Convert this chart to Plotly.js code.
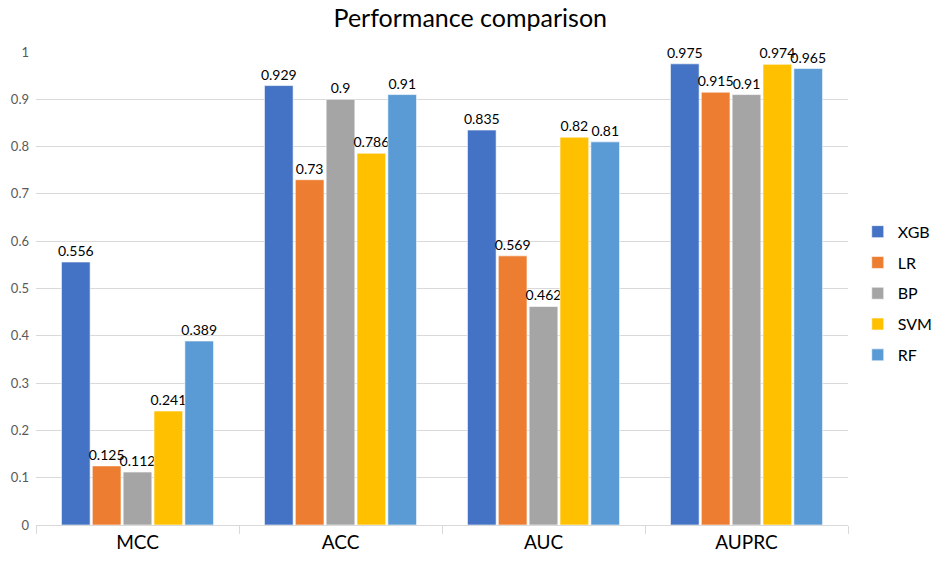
<!DOCTYPE html>
<html>
<head>
<meta charset="utf-8">
<script src="https://cdn.plot.ly/plotly-3.0.1.min.js"></script>
<style>
  html, body { margin: 0; padding: 0; background: #fff; }
  #plot { width: 935px; height: 566px; }
</style>
</head>
<body>
<div id="plot"></div>
<script>
const metrics = ["MCC", "ACC", "AUC", "AUPRC"];
const models = ["XGB", "LR", "BP", "SVM", "RF"];
const xgb = [0.556, 0.929, 0.835, 0.975];
const lr = [0.125, 0.73, 0.569, 0.915];
const bp = [0.112, 0.9, 0.462, 0.91];
const svm = [0.241, 0.786, 0.82, 0.974];
const rf = [0.389, 0.91, 0.81, 0.965];
const yTicks = [0, 0.1, 0.2, 0.3, 0.4, 0.5, 0.6, 0.7, 0.8, 0.9, 1];

const colors = ["#4472C4", "#ED7D31", "#A5A5A5", "#FFC000", "#5B9BD5"];
const series = [xgb, lr, bp, svm, rf];

// one legend group per model so tracegroupgap spaces the entries out
const traces = series.map((vals, i) => ({
  type: "bar",
  name: models[i],
  legendgroup: models[i],
  x: metrics,
  y: vals,
  text: vals.map(v => String(v)),
  textposition: "outside",
  textangle: 0,
  constraintext: "none",
  cliponaxis: false,
  textfont: { family: "Lato, sans-serif", size: 14, color: "#000" },
  marker: { color: colors[i], line: { color: "rgba(255,255,255,0.6)", width: 1 } },
  hoverinfo: "skip"
}));

const layout = {
  width: 935,
  height: 566,
  margin: { l: 36, r: 87, t: 52, b: 41, autoexpand: false },
  paper_bgcolor: "#fff",
  plot_bgcolor: "#fff",
  font: { family: "Lato, sans-serif", color: "#595959" },
  title: {
    text: "Performance comparison",
    x: 0.503,
    xanchor: "center",
    y: 0.968,
    yanchor: "middle",
    font: { family: "Lato, sans-serif", size: 25, color: "#000" }
  },
  barmode: "group",
  bargap: 0.24,
  bargroupgap: 0.07,
  xaxis: {
    type: "category",
    showline: true,
    linecolor: "#d9d9d9",
    linewidth: 1,
    ticks: "outside",
    tickson: "boundaries",
    ticklen: 8,
    tickcolor: "#d9d9d9",
    showgrid: false,
    automargin: false,
    tickfont: { family: "Lato, sans-serif", size: 19, color: "#000" }
  },
  yaxis: {
    range: [0, 1],
    tickvals: yTicks,
    ticktext: yTicks.map(v => String(v)),
    showgrid: true,
    gridcolor: "#d9d9d9",
    gridwidth: 1,
    zeroline: false,
    showline: false,
    ticks: "",
    automargin: false,
    ticklabelstandoff: 6,
    tickfont: { family: "Lato, sans-serif", size: 13, color: "#595959" }
  },
  legend: {
    x: 1.012,
    xanchor: "left",
    y: 0.49,
    yanchor: "middle",
    font: { family: "Lato, sans-serif", size: 16, color: "#000" },
    tracegroupgap: 7,
    itemwidth: 30,
    bgcolor: "rgba(0,0,0,0)"
  },
  showlegend: true
};

Plotly.newPlot("plot", traces, layout, { displayModeBar: false, staticPlot: true });
</script>
</body>
</html>
